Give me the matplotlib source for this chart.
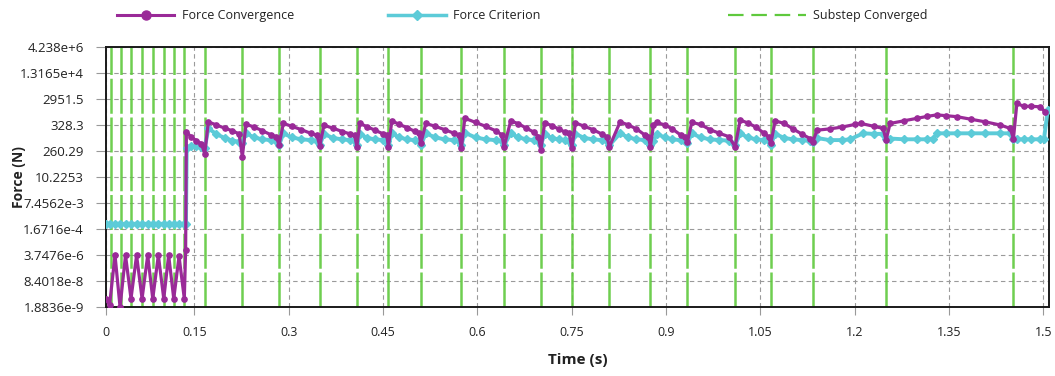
import matplotlib
matplotlib.use("Agg")
import matplotlib.pyplot as plt
from matplotlib.lines import Line2D

# ---------------- data ----------------
# y values are expressed in "tick-row" units: 0 = bottom tick (1.8836e-9) ... 10 = top tick (4.238e+6)
y_tick_labels = ['1.8836e-9', '8.4018e-8', '3.7476e-6', '1.6716e-4', '7.4562e-3',
                 '10.2253', '260.29', '328.3', '2951.5', '1.3165e+4', '4.238e+6']
x_tick_values = [0.0094, 0.15, 0.3, 0.45, 0.6, 0.75, 0.9, 1.05, 1.2, 1.35, 1.5]
x_tick_labels = ['0', '0.15', '0.3', '0.45', '0.6', '0.75', '0.9', '1.05', '1.2', '1.35', '1.5']

substep_times = [0.0167, 0.0333, 0.0491, 0.0667, 0.0837, 0.1012, 0.1171, 0.1339, 0.1664,
                 0.2262, 0.2846, 0.3493, 0.4082, 0.4584, 0.5100, 0.5745, 0.6424, 0.7008,
                 0.7501, 0.8099, 0.8751, 0.9340, 1.0099, 1.0667, 1.1335, 1.2500, 1.4525]

conv_t = [0.0094, 0.0150, 0.0237, 0.0317, 0.0404, 0.0491, 0.0580, 0.0667, 0.0757, 0.0837,
          0.0926, 0.1012, 0.1090, 0.1171, 0.1255, 0.1339, 0.1360, 0.1372,
          0.1440, 0.1530, 0.1610, 0.1664,
          0.1721, 0.1850, 0.1980, 0.2100, 0.2210, 0.2262,
          0.2320, 0.2450, 0.2580, 0.2720, 0.2800, 0.2846,
          0.2914, 0.3050, 0.3200, 0.3350, 0.3450, 0.3493,
          0.3560, 0.3700, 0.3850, 0.3980, 0.4050, 0.4082,
          0.4130, 0.4250, 0.4370, 0.4500, 0.4560, 0.4584,
          0.4640, 0.4760, 0.4880, 0.5000, 0.5070, 0.5100,
          0.5180, 0.5330, 0.5480, 0.5630, 0.5710, 0.5745,
          0.5800, 0.5970, 0.6130, 0.6290, 0.6390, 0.6424,
          0.6530, 0.6650, 0.6780, 0.6900, 0.6970, 0.7008,
          0.7070, 0.7180, 0.7290, 0.7400, 0.7460, 0.7501,
          0.7560, 0.7700, 0.7840, 0.7980, 0.8060, 0.8099,
          0.8270, 0.8400, 0.8530, 0.8660, 0.8720, 0.8751,
          0.8800, 0.8853, 0.8980, 0.9100, 0.9230, 0.9300, 0.9340,
          0.9410, 0.9550, 0.9700, 0.9850, 1.0000, 1.0099,
          1.0178, 1.0300, 1.0430, 1.0560, 1.0630, 1.0667,
          1.0735, 1.0880, 1.1020, 1.1160, 1.1290, 1.1335,
          1.1400, 1.1600, 1.1800, 1.2000, 1.2100, 1.2300, 1.2450, 1.2500,
          1.2563, 1.2780, 1.2989, 1.3150, 1.3307, 1.3450, 1.3625, 1.3850, 1.4080, 1.4314, 1.4473, 1.4525,
          1.4579, 1.4685, 1.4800, 1.4950, 1.5030]
conv_v = [0.32, 0.07, 1.99, 0.00, 1.99, 0.32, 1.99, 0.32, 1.99, 0.32,
          1.99, 0.32, 1.99, 0.32, 1.95, 0.32, 2.20, 6.75,
          6.55, 6.40, 6.28, 5.90,
          7.12, 7.00, 6.88, 6.78, 6.66, 5.78,
          7.03, 6.92, 6.78, 6.62, 6.55, 6.23,
          7.06, 6.95, 6.82, 6.68, 6.60, 6.20,
          6.99, 6.88, 6.75, 6.65, 6.60, 6.16,
          7.06, 6.93, 6.80, 6.66, 6.60, 6.16,
          7.16, 7.02, 6.90, 6.76, 6.68, 6.29,
          7.06, 6.95, 6.82, 6.68, 6.60, 6.10,
          7.26, 7.10, 6.95, 6.78, 6.62, 6.16,
          7.16, 7.05, 6.88, 6.72, 6.55, 6.03,
          7.08, 6.98, 6.85, 6.72, 6.68, 6.10,
          7.08, 6.95, 6.82, 6.65, 6.55, 6.16,
          7.12, 7.00, 6.85, 6.62, 6.55, 6.16,
          7.00, 7.10, 7.00, 6.85, 6.62, 6.55, 6.35,
          7.10, 7.02, 6.82, 6.68, 6.55, 6.16,
          7.19, 7.08, 6.92, 6.68, 6.55, 6.29,
          7.16, 7.06, 6.85, 6.65, 6.48, 6.35,
          6.80, 6.85, 6.92, 7.02, 7.06, 6.95, 6.87, 6.42,
          7.06, 7.16, 7.26, 7.33, 7.39, 7.36, 7.32, 7.22, 7.12, 7.00, 6.87, 6.48,
          7.83, 7.72, 7.72, 7.70, 7.50]

crit_t = [0.0094, 0.0150, 0.0237, 0.0317, 0.0404, 0.0491, 0.0580, 0.0667, 0.0757, 0.0837,
          0.0926, 0.1012, 0.1090, 0.1171, 0.1255, 0.1339, 0.1365, 0.1377,
          0.1440, 0.1530, 0.1610, 0.1664,
          0.1721, 0.1850, 0.1980, 0.2100, 0.2210, 0.2262,
          0.2320, 0.2450, 0.2580, 0.2720, 0.2800, 0.2846,
          0.2914, 0.3050, 0.3200, 0.3350, 0.3450, 0.3493,
          0.3560, 0.3700, 0.3850, 0.3980, 0.4050, 0.4082,
          0.4130, 0.4250, 0.4370, 0.4500, 0.4560, 0.4584,
          0.4640, 0.4760, 0.4880, 0.5000, 0.5070, 0.5100,
          0.5180, 0.5330, 0.5480, 0.5630, 0.5710, 0.5745,
          0.5800, 0.5970, 0.6130, 0.6290, 0.6390, 0.6424,
          0.6530, 0.6650, 0.6780, 0.6900, 0.6970, 0.7008,
          0.7070, 0.7180, 0.7290, 0.7400, 0.7460, 0.7501,
          0.7560, 0.7700, 0.7840, 0.7980, 0.8060, 0.8099,
          0.8270, 0.8400, 0.8530, 0.8660, 0.8720, 0.8751,
          0.8800, 0.8853, 0.8980, 0.9100, 0.9230, 0.9300, 0.9340,
          0.9410, 0.9550, 0.9700, 0.9850, 1.0000, 1.0099,
          1.0178, 1.0300, 1.0430, 1.0560, 1.0630, 1.0667,
          1.0735, 1.0880, 1.1020, 1.1160, 1.1290, 1.1335,
          1.1400, 1.1600, 1.1800, 1.1926, 1.2135, 1.2300, 1.2450, 1.2500,
          1.2563, 1.2780, 1.2989, 1.3150, 1.3250, 1.3307, 1.3450, 1.3625, 1.3850, 1.4080, 1.4314, 1.4473, 1.4525,
          1.4579, 1.4685, 1.4800, 1.4950, 1.5010, 1.5070]
crit_v = [3.20, 3.20, 3.20, 3.20, 3.20, 3.20, 3.20, 3.20, 3.20, 3.20,
          3.20, 3.20, 3.20, 3.20, 3.20, 3.20, 3.20, 6.10,
          6.20, 6.18, 6.16, 6.10,
          6.87, 6.65, 6.50, 6.40, 6.36, 6.30,
          6.68, 6.52, 6.45, 6.42, 6.40, 6.22,
          6.68, 6.52, 6.45, 6.42, 6.40, 6.22,
          6.66, 6.50, 6.45, 6.42, 6.40, 6.22,
          6.66, 6.50, 6.45, 6.42, 6.40, 6.22,
          6.68, 6.52, 6.45, 6.42, 6.40, 6.22,
          6.68, 6.52, 6.45, 6.42, 6.40, 6.22,
          6.70, 6.52, 6.45, 6.42, 6.40, 6.22,
          6.68, 6.52, 6.45, 6.42, 6.40, 6.22,
          6.66, 6.50, 6.45, 6.42, 6.40, 6.22,
          6.66, 6.50, 6.45, 6.42, 6.40, 6.22,
          6.68, 6.52, 6.45, 6.42, 6.40, 6.22,
          6.40, 6.66, 6.52, 6.45, 6.42, 6.40, 6.30,
          6.68, 6.52, 6.45, 6.42, 6.40, 6.22,
          6.68, 6.52, 6.45, 6.42, 6.40, 6.25,
          6.66, 6.50, 6.45, 6.42, 6.40, 6.35,
          6.50, 6.42, 6.42, 6.45, 6.68, 6.66, 6.66, 6.45,
          6.48, 6.45, 6.45, 6.45, 6.48, 6.68, 6.68, 6.68, 6.68, 6.68, 6.68, 6.68, 6.48,
          6.45, 6.45, 6.45, 6.45, 6.45, 7.57]

# ---------------- style ----------------
MAGENTA = '#9a2a98'
CYAN = '#5ccbd8'
GREEN = '#5fc93d'
TEXT = '#222222'

plt.rcParams['font.family'] = ['Open Sans', 'DejaVu Sans']

fig = plt.figure(figsize=(10.55, 3.76), dpi=100)
ax = fig.add_axes([0.1005, 0.1835, 0.8938, 0.6915])

for t in substep_times:
    ax.axvline(t, color=GREEN, lw=1.8, alpha=0.9, ls=(0, (14, 1.5)), zorder=2)

ax.plot(crit_t, crit_v, color=CYAN, lw=2.8, marker='D', ms=3.6, zorder=3)
ax.plot(conv_t, conv_v, color=MAGENTA, lw=2.3, marker='o', ms=3.8, zorder=4)

ax.set_xlim(0.0094, 1.509)
ax.set_ylim(0, 10)
ax.set_yticks(range(11))
ax.set_yticklabels(y_tick_labels)
ax.set_xticks(x_tick_values)
ax.set_xticklabels(x_tick_labels)

ax.grid(True, color='#9a9a9a', ls=(0, (4, 3)), lw=0.8, zorder=1)
ax.set_axisbelow(True)

for s in ax.spines.values():
    s.set_color('#1a1a1a')
    s.set_linewidth(1.4)

ax.tick_params(axis='y', length=7, color='#999999', pad=9, labelsize=9.5, labelcolor=TEXT)
ax.tick_params(axis='x', length=6, color='#999999', pad=8, labelsize=9, labelcolor=TEXT)
for lab in ax.get_xticklabels():
    lab.set_family(['Liberation Sans Narrow', 'Open Sans', 'DejaVu Sans'])

fig.text(0.5475, 0.042, 'Time (s)', ha='center', va='center', fontsize=11,
         fontweight='bold', color=TEXT)
fig.text(0.018, 0.528, 'Force (N)', ha='center', va='center', rotation=90,
         fontsize=10, fontweight='bold', color=TEXT)

# legend entries placed individually across the top
h1 = Line2D([], [], color=MAGENTA, lw=2.2, marker='o', ms=6.5, label='Force Convergence')
h2 = Line2D([], [], color=CYAN, lw=2.5, marker='D', ms=5.5, label='Force Criterion')
h3 = Line2D([], [], color=GREEN, lw=1.6, ls=(0, (7, 3.5)), label='Substep Converged')
for h, xf, hl in [(h1, 117 / 1055, 4.6), (h2, 388 / 1055, 4.6), (h3, 728 / 1055, 6.2)]:
    fig.legend(handles=[h], loc='center left', bbox_to_anchor=(xf, 0.958), frameon=False,
               borderpad=0, borderaxespad=0, handlelength=hl, handletextpad=0.6,
               fontsize=9, labelcolor=TEXT, numpoints=1)

fig.savefig('out.png', dpi=100)
